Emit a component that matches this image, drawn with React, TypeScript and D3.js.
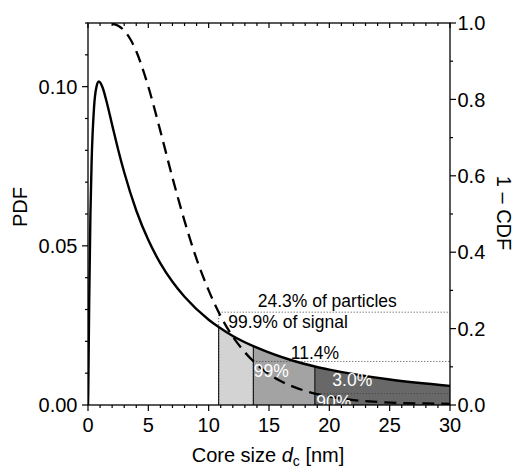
import React from "react";
import * as d3 from "d3";

// PDF of core size (solid line, left axis)
const pdfX = [0, 0.02, 0.05, 0.1, 0.2, 0.3, 0.5, 0.7, 0.9, 1.2, 1.5, 2, 2.5, 3, 4, 5, 6, 7, 8, 10, 10.83, 12, 13.7, 14, 17, 18.8, 20, 25, 30];
const pdfY = [0, 0.0035, 0.0144, 0.0328, 0.0597, 0.0764, 0.0935, 0.0999, 0.1016, 0.0998, 0.0959, 0.088, 0.0802, 0.0731, 0.0611, 0.0518, 0.0445, 0.0387, 0.034, 0.0268, 0.0245, 0.0217, 0.0185, 0.018, 0.0139, 0.0121, 0.0111, 0.008, 0.006];

// 1 - CDF (dashed line, right axis)
const cdfX = [2, 2.5, 3, 3.5, 4, 4.5, 5, 6, 7, 8, 9, 10, 11, 12, 13, 14, 15, 16, 17, 18, 20, 22, 24, 26, 28, 30];
const cdfY = [0.998, 0.993, 0.98, 0.958, 0.926, 0.883, 0.833, 0.717, 0.595, 0.482, 0.382, 0.3, 0.232, 0.179, 0.138, 0.106, 0.081, 0.062, 0.048, 0.037, 0.022, 0.013, 0.008, 0.005, 0.004, 0.003];

// cut-off sizes, fraction of particles above each, fraction of signal above each
const cutX = [10.83, 13.7, 18.8];
const cutFrac = [0.243, 0.114, 0.03];
const particleLabels = ["24.3% of particles", "11.4%", "3.0%"];
const signalLabels = ["99.9% of signal", "99%", "90%"];
const fillColors = ["#d3d3d3", "#a3a3a3", "#686868"];

const xTicks = [0, 5, 10, 15, 20, 25, 30];
const yLTicks = [0, 0.05, 0.1];
const yRTicks = [0, 0.2, 0.4, 0.6, 0.8, 1.0];

const W = 516, H = 467;
const L = 88, R = 450, T = 23, B = 405;
const FONT = "'Liberation Sans', Arial, Helvetica, sans-serif";

export default function App() {
  const x = d3.scaleLinear().domain([0, 30]).range([L, R]);
  const yL = d3.scaleLinear().domain([0, 0.12]).range([B, T]);
  const yR = d3.scaleLinear().domain([0, 1]).range([B, T]);

  const pdfPts: [number, number][] = pdfX.map((v, i) => [v, pdfY[i]]);
  const cdfPts: [number, number][] = cdfX.map((v, i) => [v, cdfY[i]]);

  const pdfLine = d3.line<[number, number]>().x(d => x(d[0])).y(d => yL(d[1])).curve(d3.curveMonotoneX);
  const cdfLine = d3.line<[number, number]>().x(d => x(d[0])).y(d => yR(d[1])).curve(d3.curveMonotoneX);
  const area = d3.area<[number, number]>().x(d => x(d[0])).y0(yL(0)).y1(d => yL(d[1])).curve(d3.curveMonotoneX);

  const bounds = [...cutX, 30];
  const regions = cutX.map((a, i) => pdfPts.filter(p => p[0] >= a && p[0] <= bounds[i + 1]));
  const pdfAt = (v: number) => pdfY[pdfX.indexOf(v)];

  const xMinor = d3.range(0, 31, 1);
  const yLMinor = d3.range(0, 12.5, 1).map(v => v / 100);
  const yRMinor = d3.range(0, 10.5, 1).map(v => v / 10);

  const fmtL = d3.format(".2f");
  const fmtR = d3.format(".1f");

  return (
    <svg width={W} height={H} style={{ position: "absolute", left: 0, top: 0, background: "#fff" }} fontFamily={FONT}>
      <defs>
        <clipPath id="plot">
          <rect x={L} y={T} width={R - L} height={B - T} />
        </clipPath>
      </defs>
      <g clipPath="url(#plot)">
        {regions.map((r, i) => (
          <path key={"f" + i} d={area(r) || ""} fill={fillColors[i]} stroke="none" />
        ))}
        {cutX.map((c, i) => (
          <g key={"d" + i}>
            <line x1={x(c)} x2={R} y1={yR(cutFrac[i])} y2={yR(cutFrac[i])} stroke="#444" strokeWidth={1} strokeDasharray="1,2" />
            <line x1={x(c)} x2={x(c)} y1={yR(cutFrac[i])} y2={B} stroke="#444" strokeWidth={1} strokeDasharray="1,2" />
          </g>
        ))}
        {cutX.map((c, i) => (
          <line key={"b" + i} x1={x(c)} x2={x(c)} y1={B} y2={yL(pdfAt(c))} stroke="#000" strokeWidth={1} />
        ))}
        <path d={pdfLine(pdfPts) || ""} fill="none" stroke="#000" strokeWidth={2.4} />
        <path d={cdfLine(cdfPts) || ""} fill="none" stroke="#000" strokeWidth={2.3} strokeDasharray="12,7" />
        {/* annotations */}
        <text x={x(cutX[0]) + 39} y={yR(cutFrac[0]) - 5.5} fontSize={17.5} fill="#000">{particleLabels[0]}</text>
        <text x={x(cutX[0]) + 9.5} y={327.5} fontSize={17.5} fill="#000">{signalLabels[0]}</text>
        <text x={x(cutX[1]) + 37.5} y={yR(cutFrac[1]) - 2} fontSize={17.5} fill="#000">{particleLabels[1]}</text>
        <text x={x(cutX[1]) + 0.5} y={377.3} fontSize={17.5} fill="#fff">{signalLabels[1]}</text>
        <text x={x(cutX[2]) + 17.5} y={385.5} fontSize={17.5} fill="#fff">{particleLabels[2]}</text>
        <text x={x(cutX[2]) + 1.5} y={407.5} fontSize={17.5} fill="#fff">{signalLabels[2]}</text>
      </g>

      {/* frame */}
      <rect x={L} y={T} width={R - L} height={B - T} fill="none" stroke="#000" strokeWidth={1.3} />

      {/* bottom ticks */}
      {xMinor.map(v => (
        <line key={"xm" + v} x1={x(v)} x2={x(v)} y1={B} y2={B + (v % 5 === 0 ? 6 : 3)} stroke="#000" strokeWidth={1.2} />
      ))}
      {xMinor.map(v => (
        <line key={"xt" + v} x1={x(v)} x2={x(v)} y1={T} y2={T + (v % 5 === 0 ? 5 : 3)} stroke="#000" strokeWidth={1.2} />
      ))}
      {xTicks.map(v => (
        <text key={"xl" + v} x={x(v)} y={431.5} fontSize={20} textAnchor="middle">{v}</text>
      ))}

      {/* left ticks */}
      {yLMinor.map((v, i) => (
        <line key={"ylm" + i} x1={L - (i % 5 === 0 ? 6 : 3)} x2={L} y1={yL(v)} y2={yL(v)} stroke="#000" strokeWidth={1.2} />
      ))}
      {yLTicks.map(v => (
        <text key={"yll" + v} x={L - 10.5} y={yL(v)} dy="0.36em" fontSize={20} textAnchor="end">{fmtL(v)}</text>
      ))}

      {/* right ticks */}
      {yRMinor.map((v, i) => (
        <line key={"yrm" + i} x1={R} x2={R + (i % 2 === 0 ? 6 : 3)} y1={yR(v)} y2={yR(v)} stroke="#000" strokeWidth={1.2} />
      ))}
      {yRTicks.map(v => (
        <text key={"yrl" + v} x={R + 7.5} y={yR(v)} dy="0.36em" fontSize={20} textAnchor="start">{fmtR(v)}</text>
      ))}

      {/* axis titles */}
      <text x={268} y={461.5} fontSize={20} textAnchor="middle">
        Core size <tspan fontStyle="italic">d</tspan>
        <tspan fontSize={14} dy={4}>c</tspan>
        <tspan dy={-4}> [nm]</tspan>
      </text>
      <text transform="translate(27,207) rotate(-90)" fontSize={20} textAnchor="middle">PDF</text>
      <text transform="translate(497,213) rotate(90)" fontSize={20} textAnchor="middle">1 – CDF</text>
    </svg>
  );
}
